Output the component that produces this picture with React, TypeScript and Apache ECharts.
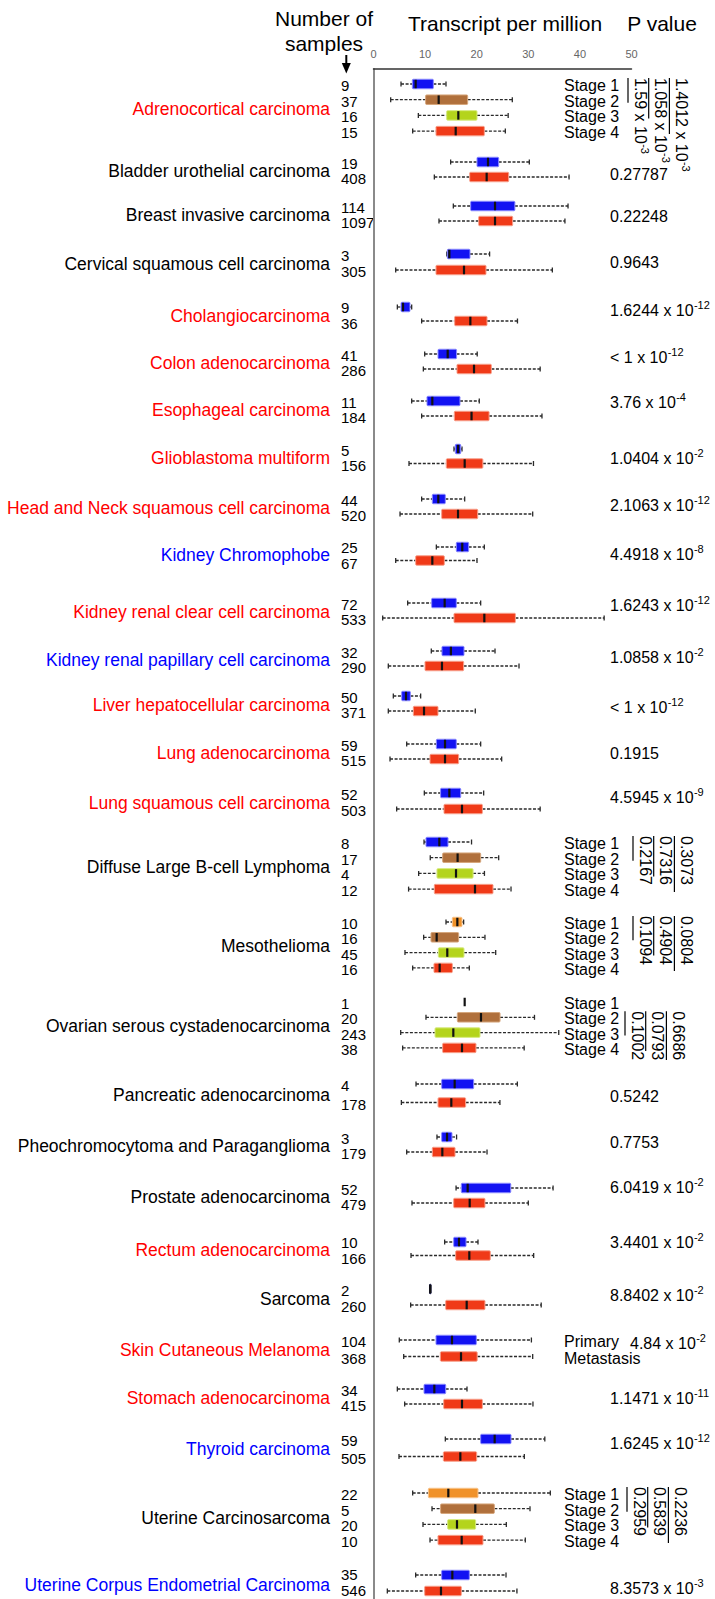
import React, { useEffect, useRef } from "react";
import * as echarts from "echarts";

// ---------------- DATA ----------------
const cancerTypes = [
  "Adrenocortical carcinoma",
  "Bladder urothelial carcinoma",
  "Breast invasive carcinoma",
  "Cervical squamous cell carcinoma",
  "Cholangiocarcinoma",
  "Colon adenocarcinoma",
  "Esophageal carcinoma",
  "Glioblastoma multiform",
  "Head and Neck squamous cell carcinoma",
  "Kidney Chromophobe",
  "Kidney renal clear cell carcinoma",
  "Kidney renal papillary cell carcinoma",
  "Liver hepatocellular carcinoma",
  "Lung adenocarcinoma",
  "Lung squamous cell carcinoma",
  "Diffuse Large B-cell Lymphoma",
  "Mesothelioma",
  "Ovarian serous cystadenocarcinoma",
  "Pancreatic adenocarcinoma",
  "Pheochromocytoma and Paraganglioma",
  "Prostate adenocarcinoma",
  "Rectum adenocarcinoma",
  "Sarcoma",
  "Skin Cutaneous Melanoma",
  "Stomach adenocarcinoma",
  "Thyroid carcinoma",
  "Uterine Carcinosarcoma",
  "Uterine Corpus Endometrial Carcinoma",
];

// label highlight class: r = red, k = black, b = blue
const nameClass = [
  "r", "k", "k", "k", "r", "r", "r", "r", "r", "b", "r", "b", "r", "r",
  "r", "k", "k", "k", "k", "k", "k", "r", "k", "r", "r", "b", "k", "b",
];

const sampleCounts = [
  [9, 37, 16, 15],
  [19, 408],
  [114, 1097],
  [3, 305],
  [9, 36],
  [41, 286],
  [11, 184],
  [5, 156],
  [44, 520],
  [25, 67],
  [72, 533],
  [32, 290],
  [50, 371],
  [59, 515],
  [52, 503],
  [8, 17, 4, 12],
  [10, 16, 45, 16],
  [1, 20, 243, 38],
  [4, 178],
  [3, 179],
  [52, 479],
  [10, 166],
  [2, 260],
  [104, 368],
  [34, 415],
  [59, 505],
  [22, 5, 20, 10],
  [35, 546],
];

// [min, q1, median, q3, max] in transcripts per million
const boxStats = [
  [[5.33, 7.53, 8.17, 11.6, 14.05], [3.33, 10.1, 12.63, 18.25, 26.9], [8.69, 14.18, 16.44, 20.06, 26.1], [7.59, 12.11, 15.93, 21.48, 25.55]],
  [[14.95, 20.06, 22.19, 24.26, 30.2], [11.79, 18.64, 21.93, 26.2, 37.9]],
  [[15.47, 18.83, 23.55, 27.4, 37.7], [12.69, 20.38, 23.55, 26.97, 37.1]],
  [[14.2, 14.31, 14.7, 18.7, 22.5], [4.3, 12.11, 17.54, 21.8, 34.66]],
  [[4.62, 5.33, 5.72, 7.07, 7.4], [9.33, 15.73, 18.77, 22.0, 27.9]],
  [[9.92, 12.5, 14.38, 16.1, 20.1], [9.66, 16.18, 19.48, 22.84, 32.3]],
  [[7.4, 10.37, 11.4, 16.76, 20.5], [9.33, 15.66, 19.0, 22.4, 32.65]],
  [[15.6, 15.86, 16.4, 16.9, 17.15], [6.88, 14.1, 17.67, 21.2, 31.0]],
  [[9.33, 11.4, 12.56, 13.92, 17.67], [5.14, 13.21, 16.38, 20.2, 30.85]],
  [[12.18, 16.05, 17.2, 18.44, 21.48], [4.3, 8.17, 11.4, 13.73, 20.06]],
  [[6.62, 11.27, 13.79, 16.05, 20.77], [1.78, 15.6, 21.48, 27.5, 44.7]],
  [[11.2, 13.27, 15.0, 17.54, 23.55], [2.87, 9.98, 13.27, 17.47, 28.2]],
  [[3.84, 5.46, 6.3, 7.14, 9.14], [2.87, 7.72, 9.79, 12.5, 19.73]],
  [[6.43, 12.18, 13.86, 16.05, 20.77], [3.2, 10.95, 13.86, 16.5, 24.84]],
  [[9.85, 13.0, 14.7, 16.9, 21.35], [4.49, 13.66, 17.15, 21.1, 32.3]],
  [[9.79, 10.17, 12.76, 14.44, 19.0], [11.0, 13.4, 16.3, 20.77, 24.26], [8.75, 12.3, 15.99, 19.3, 21.5], [6.8, 11.79, 19.67, 23.16, 26.65]],
  [[14.05, 15.28, 16.25, 17.15, 17.47], [9.72, 11.14, 12.24, 16.5, 21.6], [6.1, 12.56, 14.3, 17.54, 23.68], [7.59, 11.72, 12.82, 15.28, 18.57]],
  [[17.67, 17.67, 17.67, 17.67, 17.67], [10.17, 16.25, 20.83, 24.52, 31.2], [5.27, 11.92, 15.47, 20.64, 35.9], [5.65, 13.4, 17.15, 19.86, 29.2]],
  [[8.24, 13.21, 15.73, 19.41, 27.88], [5.4, 12.5, 15.08, 17.86, 24.5]],
  [[12.3, 13.21, 14.25, 15.21, 16.1], [6.43, 11.4, 13.34, 15.8, 22.0]],
  [[16.0, 17.02, 18.25, 26.6, 34.8], [7.46, 15.54, 18.64, 21.6, 30.0]],
  [[13.79, 15.54, 16.57, 17.93, 20.25], [7.27, 15.92, 18.57, 22.64, 31.04]],
  [[10.85, 10.85, 11.0, 11.15, 11.15], [7.2, 13.99, 18.06, 21.6, 32.5]],
  [[5.0, 12.11, 15.21, 19.93, 30.6], [5.85, 12.95, 16.96, 20.1, 30.85]],
  [[4.62, 9.79, 11.79, 13.99, 18.12], [6.04, 13.6, 17.15, 21.1, 30.9]],
  [[13.92, 20.77, 23.48, 26.65, 33.2], [4.94, 13.53, 16.83, 20.0, 29.23]],
  [[7.59, 10.63, 14.5, 20.25, 34.27], [11.34, 13.0, 19.73, 23.42, 30.33], [9.59, 14.37, 16.18, 19.8, 25.74], [10.95, 12.5, 17.09, 21.22, 29.42]],
  [[8.17, 13.21, 15.28, 18.57, 25.68], [2.68, 9.92, 13.08, 17.02, 27.8]],
];

const stageNames = ["Stage 1", "Stage 2", "Stage 3", "Stage 4"];
const skinNames = ["Primary", "Metastasis"];
// which groups are broken down by stage / sample type
const stageGroups = [0, 15, 16, 17, 26];
const skinGroup = 23;

// normal vs tumour p values ("^" marks the exponent)
const pValues = [
  null, "0.27787", "0.22248", "0.9643", "1.6244 x 10^-12", "< 1 x 10^-12",
  "3.76 x 10^-4", "1.0404 x 10^-2", "2.1063 x 10^-12", "4.4918 x 10^-8",
  "1.6243 x 10^-12", "1.0858 x 10^-2", "< 1 x 10^-12", "0.1915", "4.5945 x 10^-9",
  null, null, null, "0.5242", "0.7753", "6.0419 x 10^-2", "3.4401 x 10^-2",
  "8.8402 x 10^-2", "4.84 x 10^-2", "1.1471 x 10^-11", "1.6245 x 10^-12",
  null, "8.3573 x 10^-3",
];

// stage comparisons: [group, fromRow, toRow, p value]
const stageComparisons: [number, number, number, string][] = [
  [0, 0, 1, "1.59 x 10^-3"], [0, 0, 2, "1.058 x 10^-3"], [0, 0, 3, "1.4012 x 10^-3"],
  [15, 0, 1, "0.2167"], [15, 0, 2, "0.7316"], [15, 0, 3, "0.3073"],
  [16, 0, 1, "0.1094"], [16, 0, 2, "0.4904"], [16, 0, 3, "0.0804"],
  [17, 1, 2, "0.1002"], [17, 1, 3, "0.0793"], [17, 1, 3, "0.6686"],
  [26, 0, 1, "0.2959"], [26, 0, 2, "0.5839"], [26, 0, 3, "0.2236"],
];

const xTicks = [0, 10, 20, 30, 40, 50];

// ---------------- LAYOUT ----------------
const groupStart = [84, 162, 206, 254, 307, 354, 401, 449, 499, 547, 603, 651, 696, 744, 793, 842, 922, 1002, 1084, 1137, 1188, 1242, 1289, 1340, 1389, 1439, 1493, 1575];
const groupStep = [15.7, 15, 15, 16, 14, 15, 15, 14.5, 15, 13.5, 15, 15, 15, 15, 16, 15.7, 15.3, 15.3, 18.5, 15, 15, 13.5, 16, 16.5, 15, 17.5, 15.7, 16];
const pValueDy = [0, 12, 10, 8, 3, 3, 1, 9, 6, 7, 2, 6, 11, 9, 4, 0, 0, 0, 12, 5, -1, 0, 6, 3, 9, 4, 0, 13];
const bracketX: Record<number, number> = { 0: 628, 15: 633, 16: 633, 17: 625, 26: 627 };

// ---------------- STYLE ----------------
const FONT = '"Liberation Sans", Arial, Helvetica, sans-serif';
const fills = ["#1212f2", "#f03a18", "#b0703c", "#b4d41c", "#f0922a", "#10104a"];
const strokes = ["#8a8aff", "#f8a18c", "#d6a67c", "#d6ea7e", "#f8c48c", "#10104a"];
const nameColors: Record<string, string> = { r: "#ff0000", k: "#000000", b: "#0000ff" };
const stage1Fill: Record<number, number> = { 0: 0, 15: 0, 16: 4, 17: 0, 26: 4 };

function rowColorIndex(g: number, r: number): number {
  if (stageGroups.includes(g)) return [stage1Fill[g], 2, 3, 1][r];
  if (g === 22 && r === 0) return 5;
  return r === 0 ? 0 : 1;
}

let measureCtx: CanvasRenderingContext2D | null = null;
function textWidth(s: string, size: number): number {
  if (!measureCtx) measureCtx = document.createElement("canvas").getContext("2d");
  if (!measureCtx) return s.length * size * 0.55;
  measureCtx.font = `${size}px ${FONT}`;
  return measureCtx.measureText(s).width;
}

function sciText(str: string, x: number, y: number, size: number, rotation = 0) {
  const [base, exp] = str.split("^");
  const w = textWidth(base, size);
  const children: any[] = [
    { type: "text", x: 0, y: 0, style: { text: base, fontSize: size, fontFamily: FONT, fill: "#000", align: "left", verticalAlign: "middle" } },
  ];
  if (exp) {
    children.push({ type: "text", x: w + 0.3, y: -5, style: { text: exp, fontSize: Math.round(size * 0.7), fontFamily: FONT, fill: "#000", align: "left", verticalAlign: "middle" } });
  }
  return { type: "group", x, y, rotation, children, silent: true };
}

export default function App() {
  const ref = useRef<HTMLDivElement>(null);

  useEffect(() => {
    document.body.style.margin = "0";
    const chart = echarts.init(ref.current!, null, { renderer: "svg" });

    const rowY = (g: number, r: number) => groupStart[g] + r * groupStep[g];

    const rows: any[] = [];
    cancerTypes.forEach((_, g) => {
      boxStats[g].forEach((s, r) => {
        rows.push([rowY(g, r), s[0], s[1], s[2], s[3], s[4], rowColorIndex(g, r)]);
      });
    });

    const renderItem = (params: any, api: any) => {
      const y = api.value(0);
      const pMin = api.coord([api.value(1), y]);
      const xQ1 = api.coord([api.value(2), y])[0];
      const xMed = api.coord([api.value(3), y])[0];
      const xQ3 = api.coord([api.value(4), y])[0];
      const xMax = api.coord([api.value(5), y])[0];
      const xMin = pMin[0];
      const yc = pMin[1];
      const ci = api.value(6);
      const h = 9.5;
      const dash = { stroke: "#2a2a2a", lineWidth: 1.3, lineDash: [3, 1.6] };
      const cap = { stroke: "#2a2a2a", lineWidth: 1.3 };
      const children: any[] = [];
      if (xQ1 - xMin > 0.5) {
        children.push({ type: "line", shape: { x1: xMin, y1: yc, x2: xQ1, y2: yc }, style: dash });
        children.push({ type: "line", shape: { x1: xMin, y1: yc - 2.5, x2: xMin, y2: yc + 2.5 }, style: cap });
      }
      if (xMax - xQ3 > 0.5) {
        children.push({ type: "line", shape: { x1: xQ3, y1: yc, x2: xMax, y2: yc }, style: dash });
        children.push({ type: "line", shape: { x1: xMax, y1: yc - 2.5, x2: xMax, y2: yc + 2.5 }, style: cap });
      }
      if (xQ3 - xQ1 > 0.2) {
        children.push({
          type: "rect",
          shape: { x: xQ1, y: yc - h / 2, width: xQ3 - xQ1, height: h, r: 1 },
          style: { fill: fills[ci], stroke: strokes[ci], lineWidth: 1 },
        });
      }
      children.push({
        type: "rect",
        shape: { x: xMed - 1.1, y: yc - h / 2 + 0.5, width: 2.2, height: h - 1 },
        style: { fill: "#111" },
      });
      return { type: "group", children };
    };

    chart.setOption({
      animation: false,
      backgroundColor: "#ffffff",
      grid: { left: 373.5, right: 83.5, top: 69, bottom: 0, containLabel: false },
      xAxis: {
        type: "value",
        position: "top",
        min: xTicks[0],
        max: xTicks[xTicks.length - 1],
        interval: 10,
        axisLine: { show: true, onZero: false, lineStyle: { color: "#333", width: 1.5 } },
        axisTick: { show: false },
        splitLine: { show: false },
        axisLabel: { fontSize: 11, color: "#666", margin: 10, fontFamily: FONT },
      },
      yAxis: {
        type: "value",
        min: 69,
        max: 1599,
        inverse: true,
        axisLine: { show: true, onZero: false, lineStyle: { color: "#8a8a8a", width: 2 } },
        axisTick: { show: false },
        axisLabel: { show: false },
        splitLine: { show: false },
      },
      series: [
        {
          type: "custom",
          renderItem,
          data: rows,
          encode: { x: [1, 2, 3, 4, 5], y: 0 },
          clip: false,
          silent: true,
        },
      ],
    });

    const py = (v: number) => chart.convertToPixel({ yAxisIndex: 0 }, v) as number;

    const graphics: any[] = [];
    const txt = (text: string, x: number, y: number, size: number, fill: string, align: string) => ({
      type: "text",
      x,
      y,
      silent: true,
      style: { text, fontSize: size, fontFamily: FONT, fill, align, verticalAlign: "middle" },
    });

    // headers
    graphics.push(txt("Number of", 324, 18, 21, "#000", "center"));
    graphics.push(txt("samples", 324, 43, 21, "#000", "center"));
    graphics.push(txt("Transcript per million", 505, 23, 21, "#000", "center"));
    graphics.push(txt("P value", 662, 23, 21, "#000", "center"));
    graphics.push({ type: "line", silent: true, shape: { x1: 346.3, y1: 55, x2: 346.3, y2: 65 }, style: { stroke: "#000", lineWidth: 2 } });
    graphics.push({ type: "polygon", silent: true, shape: { points: [[341.8, 63], [350.8, 63], [346.3, 73.5]] }, style: { fill: "#000" } });

    cancerTypes.forEach((name, g) => {
      const n = boxStats[g].length;
      const centerVal = rowY(g, 0) + ((n - 1) * groupStep[g]) / 2;
      const center = py(centerVal);
      graphics.push(txt(name, 330, center + 1.5, 17.5, nameColors[nameClass[g]], "right"));
      const numStep = Math.max(groupStep[g], 15.5);
      const numYs = sampleCounts[g].map((_, r) => py(centerVal + (r - (n - 1) / 2) * numStep) + 1.5);
      const overflow = Math.max(0, numYs[numYs.length - 1] - 1590);
      sampleCounts[g].forEach((c, r) => {
        graphics.push(txt(String(c), 341, numYs[r] - overflow, 15, "#000", "left"));
      });
      const sub = stageGroups.includes(g) ? stageNames : g === skinGroup ? skinNames : null;
      if (sub) {
        sub.forEach((s, r) => graphics.push(txt(s, 564, py(rowY(g, r)) + 1.5, 16, "#000", "left")));
      }
      const p = pValues[g];
      if (p) {
        const px = g === skinGroup ? 630 : 610;
        graphics.push(sciText(p, px, py(groupStart[g] + pValueDy[g]), 16));
      }
    });

    // stage brackets
    const colIndex: Record<number, number> = {};
    stageComparisons.forEach(([g, from, to, p]) => {
      const k = colIndex[g] || 0;
      colIndex[g] = k + 1;
      const lx = bracketX[g] + k * 20.7;
      const top = py(rowY(g, from)) - 6;
      const bottom = py(rowY(g, to)) + 3 + (k === 2 && g === 17 ? 9 : 0);
      graphics.push({ type: "line", silent: true, shape: { x1: lx, y1: top, x2: lx, y2: bottom }, style: { stroke: "#000", lineWidth: 1.2 } });
      graphics.push(sciText(p, lx + 12, top, 16, -Math.PI / 2));
    });

    chart.setOption({ graphic: graphics });

    return () => {
      chart.dispose();
    };
  }, []);

  return <div ref={ref} style={{ width: 715, height: 1599, background: "#fff" }} />;
}
